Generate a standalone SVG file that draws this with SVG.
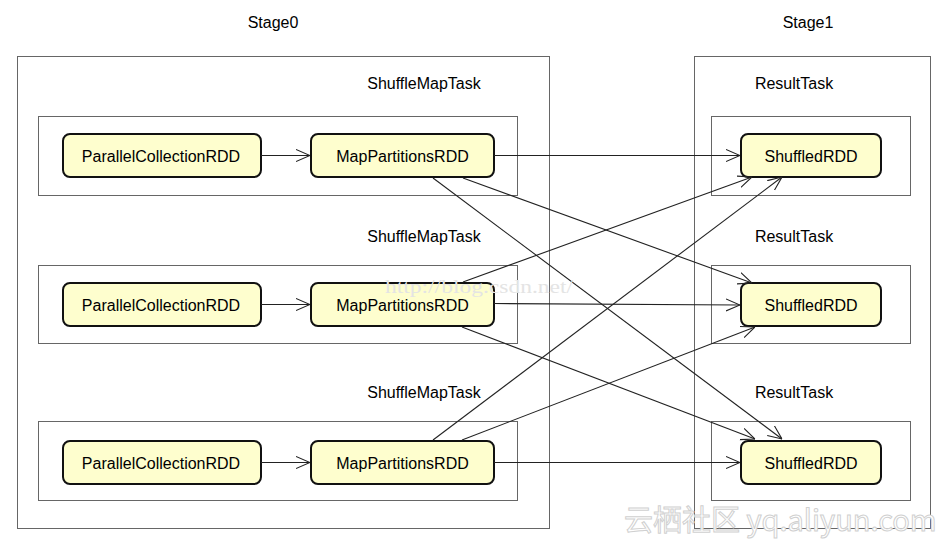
<svg xmlns="http://www.w3.org/2000/svg" width="948" height="546" viewBox="0 0 948 546">
<defs>
<style>
text{font-family:"Liberation Sans",Arial,sans-serif;font-size:16px;fill:#000;}
.lbl{text-anchor:middle;}
.frame{fill:none;stroke:#666;stroke-width:1;}
.node rect{fill:#FEFECE;stroke:#111;stroke-width:2;}
.node text{text-anchor:middle;}
.conn{fill:none;stroke:#222;stroke-width:1.1;marker-end:url(#arr);}
</style>
<marker id="arr" viewBox="0 0 14 14" refX="14" refY="7" markerWidth="14" markerHeight="14" markerUnits="userSpaceOnUse" orient="auto">
<path d="M0,1 L14,7 L0,13" fill="none" stroke="#222" stroke-width="1.1"/>
</marker>
</defs>
<rect width="948" height="546" fill="#fff"/>
<g id="stage0">
<text class="lbl" x="273" y="28">Stage0</text>
<rect class="frame" x="17.5" y="56.5" width="532" height="472"/>
</g>
<g id="stage1">
<text class="lbl" x="808" y="28">Stage1</text>
<rect class="frame" x="694.5" y="56.5" width="236" height="472"/>
</g>
<g id="smt1"><text class="lbl" x="424" y="89">ShuffleMapTask</text><rect class="frame" x="38.5" y="116.5" width="479" height="79"/></g>
<g id="smt2"><text class="lbl" x="424" y="242">ShuffleMapTask</text><rect class="frame" x="38.5" y="265.5" width="479" height="78"/></g>
<g id="smt3"><text class="lbl" x="424" y="398">ShuffleMapTask</text><rect class="frame" x="38.5" y="421.5" width="479" height="79"/></g>
<g id="rt1"><text class="lbl" x="794" y="89">ResultTask</text><rect class="frame" x="711.5" y="116.5" width="199" height="79"/></g>
<g id="rt2"><text class="lbl" x="794" y="242">ResultTask</text><rect class="frame" x="711.5" y="265.5" width="199" height="78"/></g>
<g id="rt3"><text class="lbl" x="794" y="398">ResultTask</text><rect class="frame" x="711.5" y="421.5" width="199" height="79"/></g>
<g id="pc1" class="node"><rect x="63" y="134" width="198" height="43" rx="7"/><text x="161" y="161.5">ParallelCollectionRDD</text></g>
<g id="pc2" class="node"><rect x="63" y="283" width="198" height="43" rx="7"/><text x="161" y="310.5">ParallelCollectionRDD</text></g>
<g id="pc3" class="node"><rect x="63" y="441" width="198" height="43" rx="7"/><text x="161" y="468.5">ParallelCollectionRDD</text></g>
<g id="mp1" class="node"><rect x="311" y="134" width="183" height="43" rx="7"/><text x="402.5" y="161.5">MapPartitionsRDD</text></g>
<g id="mp2" class="node"><rect x="311" y="283" width="183" height="43" rx="7"/><text x="402.5" y="310.5">MapPartitionsRDD</text></g>
<g id="mp3" class="node"><rect x="311" y="441" width="183" height="43" rx="7"/><text x="402.5" y="468.5">MapPartitionsRDD</text></g>
<g id="sr1" class="node"><rect x="741" y="134" width="140" height="43" rx="7"/><text x="811" y="161.5">ShuffledRDD</text></g>
<g id="sr2" class="node"><rect x="741" y="283" width="140" height="43" rx="7"/><text x="811" y="310.5">ShuffledRDD</text></g>
<g id="sr3" class="node"><rect x="741" y="441" width="140" height="43" rx="7"/><text x="811" y="468.5">ShuffledRDD</text></g>
<g id="connectors">
<line class="conn" x1="261" y1="155.5" x2="310" y2="155.5"/>
<line class="conn" x1="261" y1="304.5" x2="310" y2="304.5"/>
<line class="conn" x1="261" y1="462.5" x2="310" y2="462.5"/>
<line class="conn" x1="494" y1="155.5" x2="740" y2="155.5"/>
<line class="conn" x1="463" y1="178" x2="752" y2="283"/>
<line class="conn" x1="433" y1="178" x2="782" y2="439"/>
<line class="conn" x1="463" y1="282" x2="752" y2="177"/>
<line class="conn" x1="494" y1="303.5" x2="740" y2="305"/>
<line class="conn" x1="462" y1="327" x2="755" y2="439"/>
<line class="conn" x1="433" y1="440" x2="782" y2="177"/>
<line class="conn" x1="462" y1="440" x2="755" y2="327"/>
<line class="conn" x1="494" y1="462.5" x2="740" y2="462.5"/>
</g>
<text x="385" y="293" style="font-family:'Liberation Serif',serif;font-size:19px;fill:#e4e4e4" textLength="188" lengthAdjust="spacingAndGlyphs">http://blog.csdn.net/</text>
<text x="624" y="531" style="font-family:'Noto Sans CJK SC',sans-serif;font-size:29px;fill:#fff;stroke:#d0d0d0;stroke-width:1">云栖社区 yq.aliyun.com</text>
</svg>
